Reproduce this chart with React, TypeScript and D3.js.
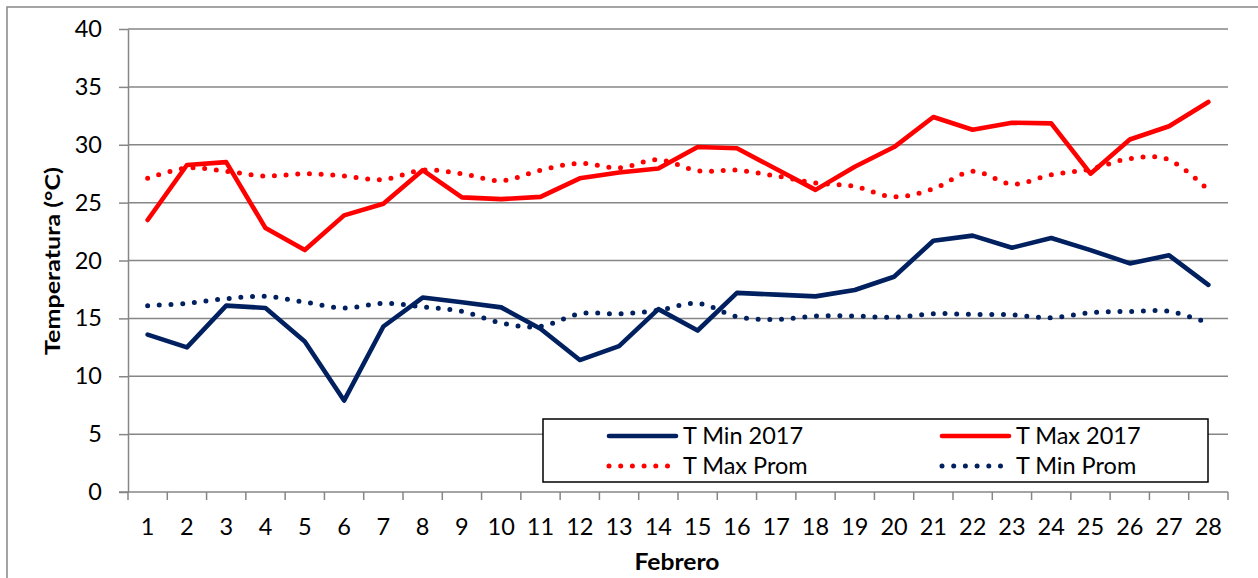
import * as React from "react";
import * as d3 from "d3";

const days = d3.range(1, 29).map(String);
const tMin2017 = [13.6, 12.5, 16.1, 15.9, 13.0, 7.9, 14.3, 16.8, 16.4, 15.95, 14.1, 11.4, 12.6, 15.8, 13.95, 17.2, 17.05, 16.9, 17.45, 18.6, 21.7, 22.15, 21.1, 21.95, 20.9, 19.75, 20.45, 17.9];
const tMax2017 = [23.5, 28.25, 28.5, 22.8, 20.9, 23.9, 24.9, 27.8, 25.45, 25.3, 25.5, 27.1, 27.6, 27.95, 29.8, 29.7, 27.9, 26.1, 28.1, 29.8, 32.4, 31.3, 31.9, 31.85, 27.5, 30.45, 31.6, 33.7];
const tMaxProm = [27.1, 28.0, 27.7, 27.3, 27.5, 27.3, 27.0, 27.8, 27.5, 26.9, 27.8, 28.4, 28.0, 28.7, 27.75, 27.8, 27.3, 26.7, 26.4, 25.5, 26.2, 27.7, 26.6, 27.4, 27.9, 28.8, 28.7, 26.1];
const tMinProm = [16.1, 16.3, 16.7, 16.9, 16.4, 15.9, 16.3, 16.0, 15.6, 14.6, 14.3, 15.4, 15.4, 15.7, 16.3, 15.15, 14.9, 15.2, 15.2, 15.1, 15.4, 15.35, 15.3, 15.05, 15.5, 15.6, 15.6, 14.6];
const yTicks = [0, 5, 10, 15, 20, 25, 30, 35, 40];

const RED = "#FF0000";
const NAVY = "#002060";
const GRID = "#868686";
const FONT = "Lato, 'Open Sans', sans-serif";

function drawChart(svgRef) {
  const W = 1258;
  const H = 578;
  const left = 128, right = 1228, top = 29, bottom = 492;

  const svg = d3.select(svgRef.current).attr("width", W).attr("height", H);
  svg.selectAll("*").remove();

  const x = d3.scaleBand().domain(days).range([left, right]).padding(0);
  const y = d3.scaleLinear().domain([0, 40]).range([bottom, top]);
  const cx = (d) => x(d) + x.bandwidth() / 2;

  svg.append("rect").attr("width", W).attr("height", H).attr("fill", "#fff");
  svg.append("rect")
    .attr("x", 7).attr("y", 7).attr("width", W + 20).attr("height", H + 20)
    .attr("fill", "none").attr("stroke", GRID).attr("stroke-width", 1.5);

  // grid
  svg.append("g").selectAll("line").data(yTicks.filter((t) => t > 0)).enter()
    .append("line")
    .attr("x1", left).attr("x2", right)
    .attr("y1", (d) => y(d)).attr("y2", (d) => y(d))
    .attr("stroke", GRID).attr("stroke-width", 1.5);

  // y axis
  const yAxis = svg.append("g")
    .attr("transform", `translate(${left},0)`)
    .call(d3.axisLeft(y).tickValues(yTicks).tickSize(9).tickSizeOuter(0).tickPadding(17));
  yAxis.select(".domain").attr("stroke", GRID).attr("stroke-width", 1.5);
  yAxis.selectAll(".tick line").attr("stroke", GRID).attr("stroke-width", 1.5);
  yAxis.selectAll(".tick text").attr("font-family", FONT).attr("font-size", 23.5).attr("fill", "#000");

  // x axis
  const xAxis = svg.append("g").attr("transform", `translate(0,${bottom})`);
  xAxis.append("line").attr("x1", left - 9).attr("x2", right).attr("stroke", GRID).attr("stroke-width", 1.5);
  xAxis.selectAll(".xt").data([...days.map((d) => x(d)), right]).enter()
    .append("line").attr("class", "xt")
    .attr("x1", (d) => d).attr("x2", (d) => d).attr("y1", 0).attr("y2", 8)
    .attr("stroke", GRID).attr("stroke-width", 1.5);
  xAxis.selectAll(".xl").data(days).enter()
    .append("text").attr("class", "xl")
    .attr("x", (d) => cx(d)).attr("y", 43)
    .attr("text-anchor", "middle")
    .attr("font-family", FONT).attr("font-size", 23.5).attr("fill", "#000")
    .text((d) => d);

  // titles
  svg.append("text")
    .attr("transform", `translate(60,261) rotate(-90)`)
    .attr("text-anchor", "middle")
    .attr("font-family", FONT).attr("font-size", 21).attr("font-weight", "bold")
    .attr("textLength", 188).attr("lengthAdjust", "spacingAndGlyphs")
    .text("Temperatura (°C)");
  svg.append("text")
    .attr("x", 677).attr("y", 570)
    .attr("text-anchor", "middle")
    .attr("font-family", FONT).attr("font-size", 22).attr("font-weight", "bold")
    .attr("textLength", 85).attr("lengthAdjust", "spacingAndGlyphs")
    .text("Febrero");

  const straight = d3.line().x((d, i) => cx(days[i])).y((d) => y(d));
  const smooth = d3.line().x((d, i) => cx(days[i])).y((d) => y(d)).curve(d3.curveCardinal.tension(0));

  const series = [
    { name: "T Max Prom", values: tMaxProm, color: RED, dotted: true },
    { name: "T Min Prom", values: tMinProm, color: NAVY, dotted: true },
    { name: "T Max 2017", values: tMax2017, color: RED, dotted: false },
    { name: "T Min 2017", values: tMin2017, color: NAVY, dotted: false },
  ];

  series.forEach((s) => {
    svg.append("path")
      .attr("d", (s.dotted ? smooth : straight)(s.values))
      .attr("fill", "none")
      .attr("stroke", s.color)
      .attr("stroke-width", s.dotted ? 5 : 4.6)
      .attr("stroke-linecap", "round")
      .attr("stroke-linejoin", "round")
      .attr("stroke-dasharray", s.dotted ? "0 11.7" : null);
  });

  // legend
  const lg = svg.append("g");
  lg.append("rect")
    .attr("x", 543).attr("y", 419).attr("width", 665).attr("height", 63)
    .attr("fill", "#fff").attr("stroke", "#000").attr("stroke-width", 1.5);
  const legendItems = [
    { name: "T Min 2017", color: NAVY, dotted: false, col: 0, row: 0 },
    { name: "T Max 2017", color: RED, dotted: false, col: 1, row: 0 },
    { name: "T Max Prom", color: RED, dotted: true, col: 0, row: 1 },
    { name: "T Min Prom", color: NAVY, dotted: true, col: 1, row: 1 },
  ];
  legendItems.forEach((it) => {
    const lx = 609 + it.col * 333;
    const ly = 436 + it.row * 30;
    lg.append("line")
      .attr("x1", lx).attr("x2", it.dotted ? lx + 59 : lx + 67)
      .attr("y1", ly).attr("y2", ly)
      .attr("stroke", it.color).attr("stroke-width", it.dotted ? 5 : 4.6)
      .attr("stroke-linecap", "round")
      .attr("stroke-dasharray", it.dotted ? "0 11.7" : null);
    lg.append("text")
      .attr("x", lx + 74).attr("y", ly + 8)
      .attr("font-family", FONT).attr("font-size", 23.5).attr("fill", "#000")
      .text(it.name);
  });
}

const App = () => {
  const svgRef = React.useRef(null);

  React.useEffect(() => {
    drawChart(svgRef);
  }, [svgRef]);

  return (
    <div id="chart" style={{ position: "absolute", left: 0, top: 0 }}>
      <svg ref={svgRef} style={{ display: "block" }} />
    </div>
  );
};

export default App;
